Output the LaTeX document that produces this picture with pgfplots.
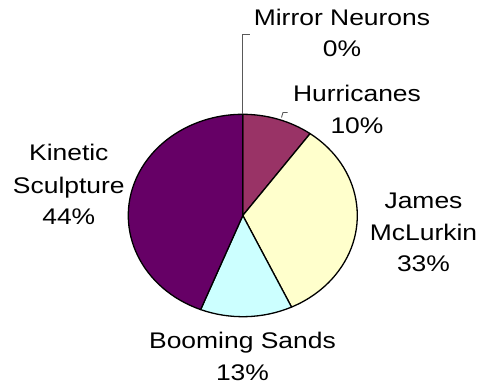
\documentclass[border=0pt]{standalone}
\usepackage{pgfplots}
\pgfplotsset{compat=1.18}
\usepackage{fontspec}
\setmainfont{Liberation Sans}
% labels are set in a slightly widened face
\newfontfamily\widefont[FakeStretch=1.17]{Liberation Sans}

\definecolor{mirror}{HTML}{9999FF}
\definecolor{hurricanes}{HTML}{993366}
\definecolor{mclurkin}{HTML}{FFFFCC}
\definecolor{sands}{HTML}{CCFFFF}
\definecolor{kinetic}{HTML}{660066}

\newcommand{\lbl}{\widefont\fontsize{11.3}{15.85}\selectfont}

\begin{document}
\begin{tikzpicture}
\begin{axis}[
  scale only axis,
  width=241.5pt, height=193pt,
  xmin=0, xmax=483, ymin=0, ymax=386,
  y dir=reverse,
  hide axis, clip=false,
]
\pgfplotsextra{%
  % canvas extent
  \path (axis cs:0,0) (axis cs:483,386);
  % pie centre (the pie is drawn slightly flattened: 57.25pt by 50.6pt)
  \def\cx{242.8}\def\cy{215.5}
  % share of each topic in percent, clockwise from twelve o'clock
  \xdef\angA{90}
  \foreach \val/\col in {0/mirror, 10/hurricanes, 33/mclurkin, 13/sands, 44/kinetic}{
    \pgfmathsetmacro{\angB}{\angA-3.6*\val}
    \ifdim\val pt>0pt
      \filldraw[fill=\col, draw=black, line width=0.65pt, line join=round]
        (axis cs:\cx,\cy) -- ++(\angA:57.25pt and 50.6pt)
        arc[start angle=\angA, end angle=\angB, x radius=57.25pt, y radius=50.6pt]
        -- cycle;
    \fi
    \xdef\angA{\angB}
  }
  % leader lines
  \draw[black!65, line width=0.45pt] (axis cs:242.8,114.3) -- (axis cs:242.8,34) -- (axis cs:250,34);
  \draw[black!65, line width=0.45pt] (axis cs:281.5,117.5) -- (axis cs:283,112.5) -- (axis cs:287.5,112.5);
  % data labels
  \node[anchor=base, font=\lbl, inner sep=0pt] at (axis cs:342,25) {Mirror Neurons};
  \node[anchor=base, font=\lbl, inner sep=0pt] at (axis cs:342,56.7) {0\%};
  \node[anchor=base, font=\lbl, inner sep=0pt] at (axis cs:357,101.7) {Hurricanes};
  \node[anchor=base, font=\lbl, inner sep=0pt] at (axis cs:357,133.3) {10\%};
  \node[anchor=base, font=\lbl, inner sep=0pt] at (axis cs:423.5,208.3) {James};
  \node[anchor=base, font=\lbl, inner sep=0pt] at (axis cs:423.5,240) {McLurkin};
  \node[anchor=base, font=\lbl, inner sep=0pt] at (axis cs:423.5,271.7) {33\%};
  \node[anchor=base, font=\lbl, inner sep=0pt] at (axis cs:68.8,160.7) {Kinetic};
  \node[anchor=base, font=\lbl, inner sep=0pt] at (axis cs:68.8,193) {Sculpture};
  \node[anchor=base, font=\lbl, inner sep=0pt] at (axis cs:68.8,224) {44\%};
  \node[anchor=base, font=\lbl, inner sep=0pt] at (axis cs:242.5,348.3) {Booming Sands};
  \node[anchor=base, font=\lbl, inner sep=0pt] at (axis cs:242.5,380) {13\%};
}
\end{axis}
\end{tikzpicture}
\end{document}
